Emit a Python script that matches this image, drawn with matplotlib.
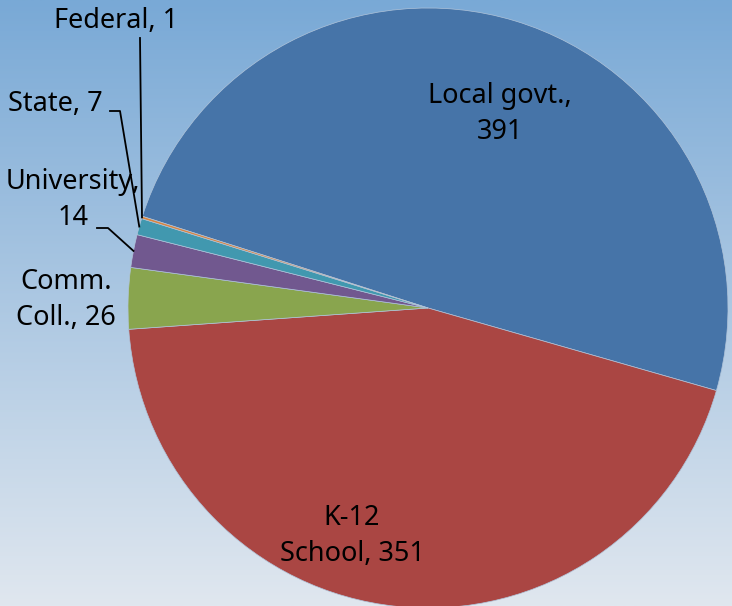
import matplotlib.pyplot as plt
import numpy as np
from matplotlib.colors import LinearSegmentedColormap

categories = ['Local govt.', 'K-12\nSchool', 'Comm.\nColl.', 'University', 'State', 'Federal']
values = [391, 351, 26, 14, 7, 1]
colors = ['#4674A8', '#AA4643', '#89A54E', '#71588F', '#4198AF', '#DB843D']
label_text = ['Local govt.,\n391', 'K-12\nSchool, 351', 'Comm.\nColl., 26',
              'University,\n14', 'State, 7', 'Federal, 1']

W, H = 732, 606
fig = plt.figure(figsize=(W / 100, H / 100), dpi=100)
ax = fig.add_axes([0, 0, 1, 1])

# background gradient
grad = LinearSegmentedColormap.from_list('bg', ['#E0E7EF', '#79A9D6'])
ax.imshow(np.linspace(0, 1, 256).reshape(-1, 1), cmap=grad, origin='lower',
          extent=[0, W, 0, H], aspect='auto', zorder=0)

cx, cy, r = 428, H - 308, 300
wedges, _ = ax.pie(values, colors=colors, startangle=162.2, counterclock=False,
                   center=(cx, cy), radius=r, frame=True,
                   wedgeprops=dict(linewidth=0.5, edgecolor='#B0C4DA'))
ax.set_xlim(0, W)
ax.set_ylim(0, H)
ax.set_aspect('equal')
ax.axis('off')
for w in wedges:
    w.set_zorder(2)

font = dict(family='Noto Sans', fontsize=19.5, color='black', ha='center', va='center',
            linespacing=1.36, zorder=5)

# labels inside / beside the pie: (x, y) in pixels from top-left
inside_pos = {0: (500, 114), 1: (352, 536), 2: (66, 300)}
for i, (x, y) in inside_pos.items():
    ax.text(x, H - y, label_text[i], **font)

def wedge_mid(w):
    a = np.deg2rad((w.theta1 + w.theta2) / 2)
    return cx + r * np.cos(a), cy + r * np.sin(a)

# University
ax.text(73, H - 200, label_text[3], **font)
mx, my = wedge_mid(wedges[3])
ax.plot([97, 108, mx], [H - 228, H - 228, my], color='black', lw=1.3, zorder=4)
# State
ax.text(55, H - 104, label_text[4], **font)
mx, my = wedge_mid(wedges[4])
ax.plot([110, 120, mx], [H - 111, H - 111, my], color='black', lw=1.3, zorder=4)
# Federal
ax.text(116, H - 21, label_text[5], **font)
mx, my = wedge_mid(wedges[5])
ax.plot([140, mx], [H - 38, my], color='black', lw=1.3, zorder=4)

fig.savefig('out.png', dpi=100)
